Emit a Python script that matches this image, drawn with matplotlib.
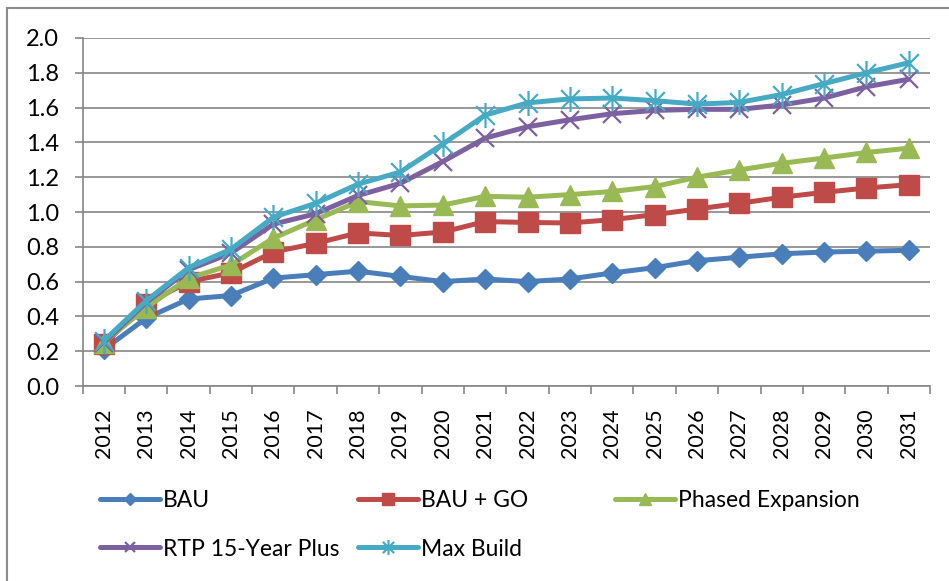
import numpy as np
import matplotlib
matplotlib.use("Agg")
import matplotlib.pyplot as plt
from matplotlib.path import Path
from matplotlib.lines import Line2D
from matplotlib.ticker import FormatStrFormatter

plt.rcParams["font.family"] = ["Lato", "DejaVu Sans"]

years = ["2012", "2013", "2014", "2015", "2016", "2017", "2018", "2019", "2020", "2021",
         "2022", "2023", "2024", "2025", "2026", "2027", "2028", "2029", "2030", "2031"]

bau = [0.21, 0.39, 0.50, 0.52, 0.62, 0.64, 0.66, 0.63, 0.60, 0.615,
       0.60, 0.615, 0.65, 0.68, 0.72, 0.74, 0.76, 0.77, 0.775, 0.78]
bau_go = [0.24, 0.47, 0.60, 0.65, 0.77, 0.82, 0.88, 0.865, 0.885, 0.945,
          0.94, 0.937, 0.956, 0.985, 1.017, 1.05, 1.085, 1.113, 1.138, 1.157]
phased = [0.25, 0.45, 0.62, 0.695, 0.85, 0.955, 1.06, 1.035, 1.04, 1.09,
          1.085, 1.10, 1.118, 1.146, 1.20, 1.242, 1.28, 1.31, 1.342, 1.367]
rtp = [0.25, 0.48, 0.668, 0.764, 0.93, 0.99, 1.095, 1.165, 1.29, 1.425,
       1.49, 1.53, 1.565, 1.584, 1.59, 1.59, 1.615, 1.655, 1.72, 1.763]
max_build = [0.26, 0.49, 0.68, 0.786, 0.97, 1.05, 1.16, 1.23, 1.39, 1.557,
             1.627, 1.65, 1.655, 1.64, 1.62, 1.63, 1.675, 1.738, 1.80, 1.858]

labels = ["BAU", "BAU + GO", "Phased Expansion", "RTP 15-Year Plus", "Max Build"]
colors = ["#4a7ebb", "#be4b48", "#98b954", "#7d60a0", "#46aac5"]

# excel style asterisk: vertical bar plus an x
star = Path([(0, -1), (0, 1), (-0.75, -0.75), (0.75, 0.75), (-0.75, 0.75), (0.75, -0.75)],
            [Path.MOVETO, Path.LINETO, Path.MOVETO, Path.LINETO, Path.MOVETO, Path.LINETO])


def main():
    fig = plt.figure(figsize=(9.49, 5.81), dpi=100)
    ax = fig.add_axes([0.0871, 0.3356, 0.8929, 0.599])

    x = np.arange(len(years))
    series = [bau, bau_go, phased, rtp, max_build]
    styles = [
        dict(marker="D", markersize=10),
        dict(marker="s", markersize=14),
        dict(marker="^", markersize=14),
        dict(marker="x", markersize=13, markeredgewidth=1.6),
        dict(marker=star, markersize=18, markeredgewidth=1.6),
    ]
    handles = []
    for vals, lab, col, st in zip(series, labels, colors, styles):
        h, = ax.plot(x, vals, color=col, linewidth=3.6, label=lab,
                     markerfacecolor=col, markeredgecolor=col,
                     solid_joinstyle="round", solid_capstyle="round",
                     clip_on=False, **st)
        handles.append(h)

    ax.set_xlim(-0.5, 19.5)
    ax.set_ylim(0, 2.0)
    ax.set_yticks(np.arange(0, 2.01, 0.2))
    ax.yaxis.set_major_formatter(FormatStrFormatter("%.1f"))
    ax.set_xticks(x)
    ax.set_xticklabels(years, rotation=90)
    ax.set_xticks(np.arange(-0.5, 20, 1.0), minor=True)
    ax.tick_params(axis="x", which="major", length=0, pad=16, labelsize=15.5)
    ax.tick_params(axis="x", which="minor", length=6, width=1.2, color="#868686")
    ax.tick_params(axis="y", length=6, width=1.2, color="#868686", pad=11, labelsize=17)

    ax.grid(axis="y", color="#868686", linewidth=1.2)
    ax.set_axisbelow(True)
    for s in ["top", "right"]:
        ax.spines[s].set_visible(False)
    for s in ["left", "bottom"]:
        ax.spines[s].set_color("#868686")
        ax.spines[s].set_linewidth(1.2)

    # legend: three columns placed like excel does it
    cols = [[handles[0], handles[3]], [handles[1], handles[4]], [handles[2]]]
    xpos = [100, 358, 615]
    for hs, xp in zip(cols, xpos):
        fig.legend(handles=hs, loc="upper left", bbox_to_anchor=(xp / 949, 1 - 490 / 581),
                   frameon=False, fontsize=16.5, handlelength=2.6, handletextpad=0.15,
                   labelspacing=1.2, borderaxespad=0, borderpad=0, markerscale=0.6)

    # outer chart border
    fig.add_artist(Line2D([7 / 949, 7 / 949], [0, 1 - 8 / 581], color="#8c8c8c", linewidth=1.5))
    fig.add_artist(Line2D([7 / 949, 1], [1 - 8 / 581, 1 - 8 / 581], color="#8c8c8c", linewidth=1.5))

    fig.savefig("out.png", dpi=100)


if __name__ == "__main__":
    main()
